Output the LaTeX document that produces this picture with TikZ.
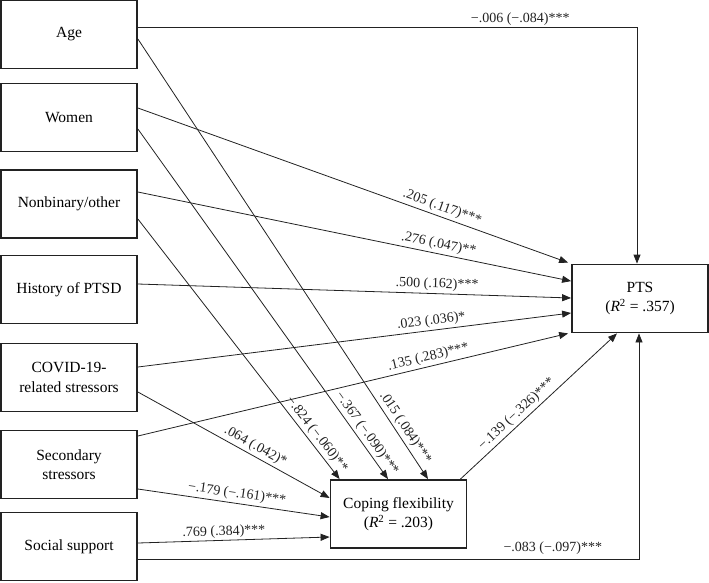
\documentclass[tikz,border=0pt]{standalone}
\usepackage{fontspec}
\setmainfont{Liberation Serif}
\usetikzlibrary{arrows.meta}
\definecolor{ink}{HTML}{222222}
\begin{document}
\begin{tikzpicture}[x=1pt,y=-1pt,
  box/.style={draw=ink,line width=1.8pt,minimum width=136pt,minimum height=68pt,inner sep=0pt,align=center,
    font=\fontsize{15.5}{19.5}\selectfont},
  conn/.style={draw=ink,line width=0.8pt,-{Triangle[length=9pt,width=7pt]}},
  lab/.style={font=\fontsize{14}{16}\selectfont,text=ink,inner sep=2.5pt}]
\useasboundingbox (0,0) rectangle (709,582);
\node[box] (age)    at (69,34.5)  {Age};
\node[box] (women)  at (69,117.5) {Women};
\node[box] (nonbin) at (69,204)   {Nonbinary/other};
\node[box] (hist)   at (69,289.5) {History of PTSD};
\node[box] (covid)  at (69,377.5) {COVID-19-\\related stressors};
\node[box] (sec)    at (69,464.5) {Secondary\\stressors};
\node[box] (soc)    at (69,546.5) {Social support};
\node[box] (pts)    at (640,298.5) {PTS\\(\textit{R}\textsuperscript{2} = .357)};
\node[box] (cope)   at (398.5,514) {Coping flexibility\\(\textit{R}\textsuperscript{2} = .203)};
% to PTS
\draw[conn] ([yshift=7.5pt]age.east) -| node[lab,pos=0.383,above,inner sep=1.5pt]{−.006 (−.084)***} ([xshift=-3pt]pts.north);
\draw[conn] ([yshift=9.5pt]women.east) -- node[lab,pos=0.70,sloped,above]{.205 (.117)***} ([xshift=-3pt,yshift=1pt]pts.north west);
\draw[conn] ([yshift=12pt]nonbin.east) -- node[lab,pos=0.69,sloped,above]{.276 (.047)**} ([yshift=-17.5pt]pts.north west);
\draw[conn] ([yshift=5.5pt]hist.east) -- node[lab,pos=0.69,sloped,above]{.500 (.162)***} ([yshift=0.5pt]pts.west);
\draw[conn] ([yshift=10.5pt]covid.east) -- node[lab,pos=0.68,sloped,above]{.023 (.036)*} ([yshift=-14.5pt]pts.west);
\draw[conn] ([yshift=28.5pt]sec.east) -- node[lab,pos=0.68,sloped,above]{.135 (.283)***} ([xshift=-3pt]pts.south west);
\draw[conn] ([yshift=-12.5pt]soc.east) -| node[lab,pos=0.414,above,inner sep=4pt]{−.083 (−.097)***} ([xshift=-1pt]pts.south);
\draw[conn] ([xshift=-7pt]cope.north east) -- node[lab,pos=0.40,sloped,above]{−.139 (−.326)***} ([xshift=-23pt]pts.south);
% to Coping
\draw[conn] ([yshift=-4.5pt]age.east) -- node[lab,pos=0.895,sloped,above]{.015 (.084)***} ([xshift=29.5pt]cope.north);
\draw[conn] ([yshift=-11.5pt]women.east) -- node[lab,pos=0.885,sloped,above]{−.367 (−.090)***} ([xshift=-10.5pt]cope.north);
\draw[conn] ([yshift=-15pt]nonbin.east) -- node[lab,pos=0.85,sloped,above]{−.824 (−.060)**} ([xshift=10pt]cope.north west);
\draw[conn] ([yshift=-14.5pt]covid.east) -- node[lab,pos=0.59,sloped,above]{.064 (.042)*} ([yshift=16pt]cope.west);
\draw[conn] ([yshift=-24.5pt]sec.east) -- node[lab,pos=0.51,sloped,above]{−.179 (−.161)***} ([yshift=-3pt]cope.west);
\draw[conn] ([yshift=3.5pt]soc.east) -- node[lab,pos=0.45,sloped,above,inner sep=1.5pt]{.769 (.384)***} ([yshift=-23pt]cope.west);
\end{tikzpicture}
\end{document}
